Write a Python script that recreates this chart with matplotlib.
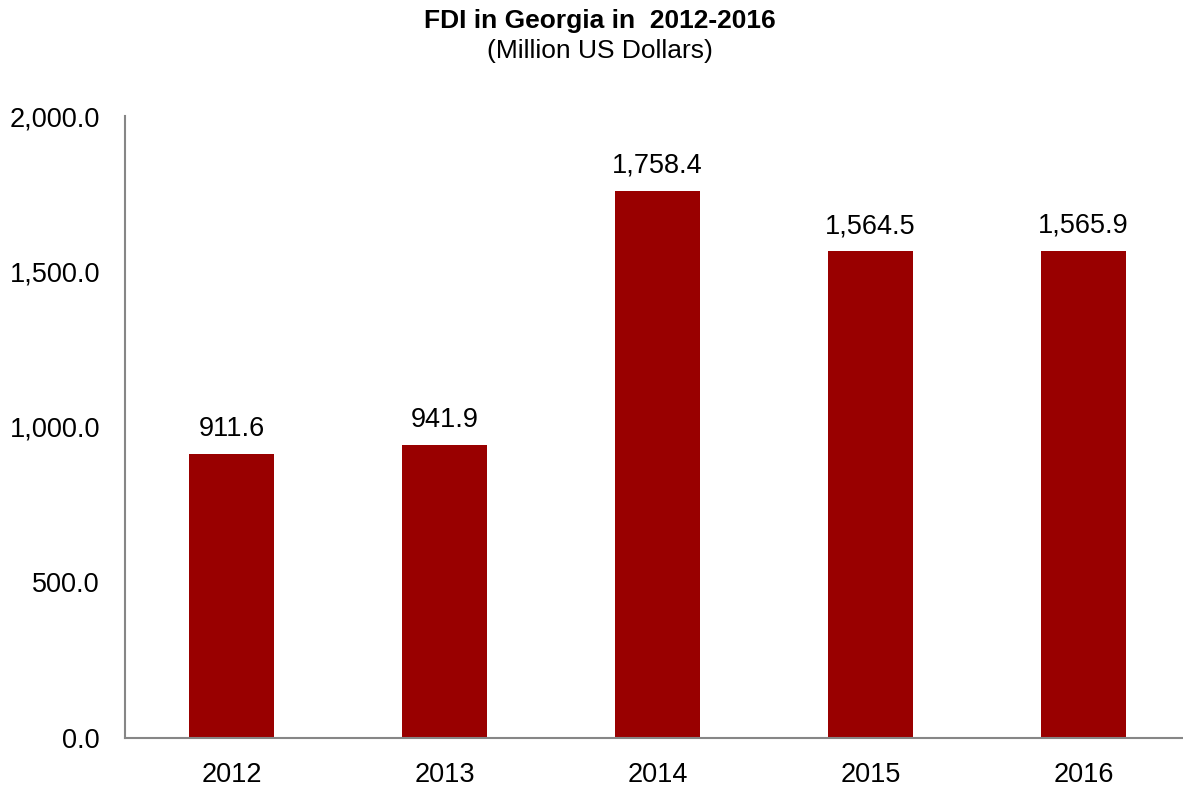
import matplotlib.pyplot as plt

plt.rcParams['font.family'] = ['Liberation Sans', 'DejaVu Sans']

years = ['2012', '2013', '2014', '2015', '2016']
fdi = [911.6, 941.9, 1758.4, 1564.5, 1565.9]
labels = ['911.6', '941.9', '1,758.4', '1,564.5', '1,565.9']
yticks = [0, 500, 1000, 1500, 2000]

fig = plt.figure(figsize=(11.83, 7.92), dpi=100)
ax = fig.add_axes([125 / 1183, 1 - 738 / 792, 1065 / 1183, (738 - 116) / 792])

x = range(len(years))
ax.bar(x, fdi, width=0.4, color='#990000')
for i, v in enumerate(fdi):
    ax.text(i, v + 40, labels[i], ha='center', va='bottom', fontsize=19.5)

ax.set_xlim(-0.5, 4.5)
ax.set_ylim(0, 2000)
ax.set_xticks(list(x))
ax.set_xticklabels(years, fontsize=19.5)
ax.set_yticks(yticks)
ax.set_yticklabels(['{:,.1f}'.format(t) for t in yticks], fontsize=19.5)
ax.tick_params(length=0)
ax.tick_params(axis='x', pad=17)
ax.tick_params(axis='y', pad=18)

for s in ['top', 'right']:
    ax.spines[s].set_visible(False)
for s in ['left', 'bottom']:
    ax.spines[s].set_color('#868686')
    ax.spines[s].set_linewidth(1.5)

fig.text(600 / 1183, 1 - 21 / 792, 'FDI in Georgia in  2012-2016', ha='center', va='center',
         fontsize=19, fontweight='bold')
fig.text(600 / 1183, 1 - 51 / 792, '(Million US Dollars)', ha='center', va='center', fontsize=19)

fig.savefig('out.png', dpi=100)
